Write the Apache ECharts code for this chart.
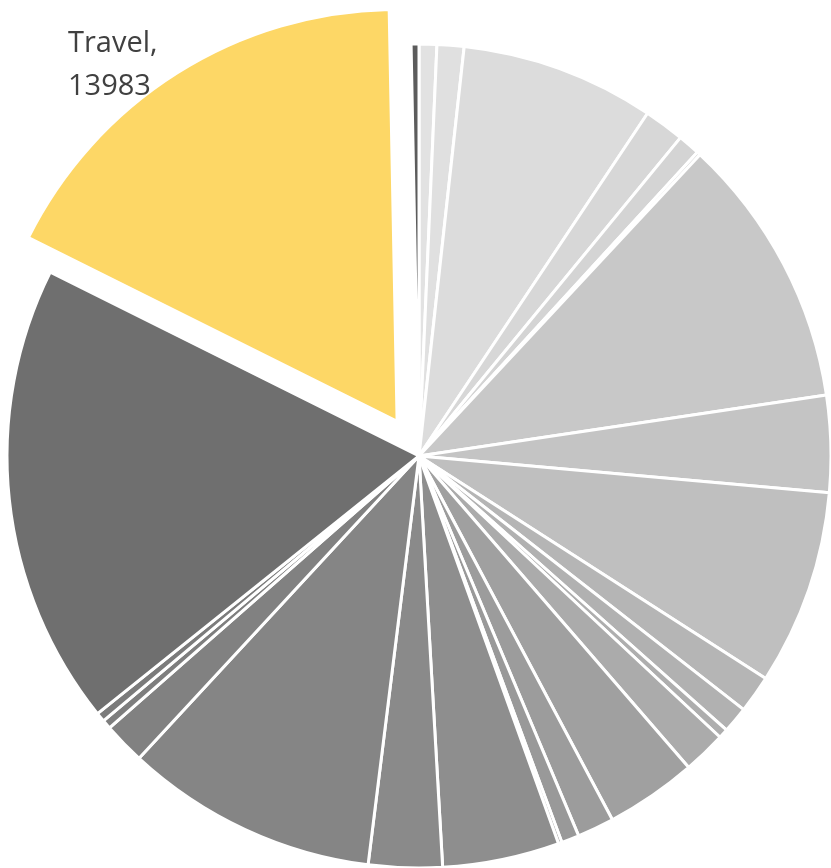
<!DOCTYPE html>
<html>
<head>
<meta charset="utf-8">
<script src="https://cdn.jsdelivr.net/npm/echarts@6/dist/echarts.min.js"></script>
<style>
html,body{margin:0;padding:0;background:#fff;}
#chart{width:831px;height:868px;}
</style>
</head>
<body>
<div id="chart"></div>
<script>
// Categories (clockwise from 12 o'clock); only "Travel" is labelled in the reference
const categories = [
  'Item 1','Item 2','Item 3','Item 4','Item 5','Item 6','Item 7','Item 8','Item 9',
  'Item 10','Item 11','Item 12','Item 13','Item 14','Item 15','Item 16','Item 17',
  'Item 18','Item 19','Item 20','Item 21','Item 22','Item 23','Item 24','Travel','Item 26'
];
const values = [
  560, 852, 6140, 1277, 695, 112, 8628, 3048, 6185,
  1188, 829, 303, 1356, 2891, 1165, 560, 112,
  3698, 2331, 8000, 1322, 291, 291, 14611, 13983, 247
];
const colors = [
  '#e2e2e2','#e0e0e0','#dcdcdc','#d7d7d7','#d4d4d4','#d2d2d2','#c8c8c8','#c4c4c4','#bfbfbf',
  '#b5b5b5','#b1b1b1','#aeaeae','#ababab','#a0a0a0','#9c9c9c','#999999','#969696',
  '#8e8e8e','#8a8a8a','#858585','#818181','#7e7e7e','#7b7b7b','#6f6f6f','#fdd766','#5c5c5c'
];
const highlighted = 'Travel';
const hlIndex = categories.indexOf(highlighted);

const data = categories.map((name, i) => {
  const item = { name: name, value: values[i], itemStyle: { color: colors[i] } };
  if (i === hlIndex) item.selected = true;
  return item;
});

const chart = echarts.init(document.getElementById('chart'), null, { renderer: 'canvas' });
chart.setOption({
  animation: false,
  backgroundColor: '#ffffff',
  graphic: [{
    type: 'text',
    left: 68,
    top: 22,
    silent: true,
    z: 10,
    style: {
      text: categories[hlIndex] + ',\n' + values[hlIndex],
      fontFamily: 'Open Sans',
      fontSize: 29,
      lineHeight: 43,
      fill: '#404040'
    }
  }],
  series: [{
    type: 'pie',
    center: [419, 456],
    radius: 412,
    startAngle: 90,
    clockwise: true,
    selectedMode: 'multiple',
    selectedOffset: 41,
    avoidLabelOverlap: false,
    label: { show: false },
    labelLine: { show: false },
    itemStyle: { borderColor: '#ffffff', borderWidth: 3 },
    emphasis: { disabled: true },
    data: data
  }]
});
</script>
</body>
</html>
